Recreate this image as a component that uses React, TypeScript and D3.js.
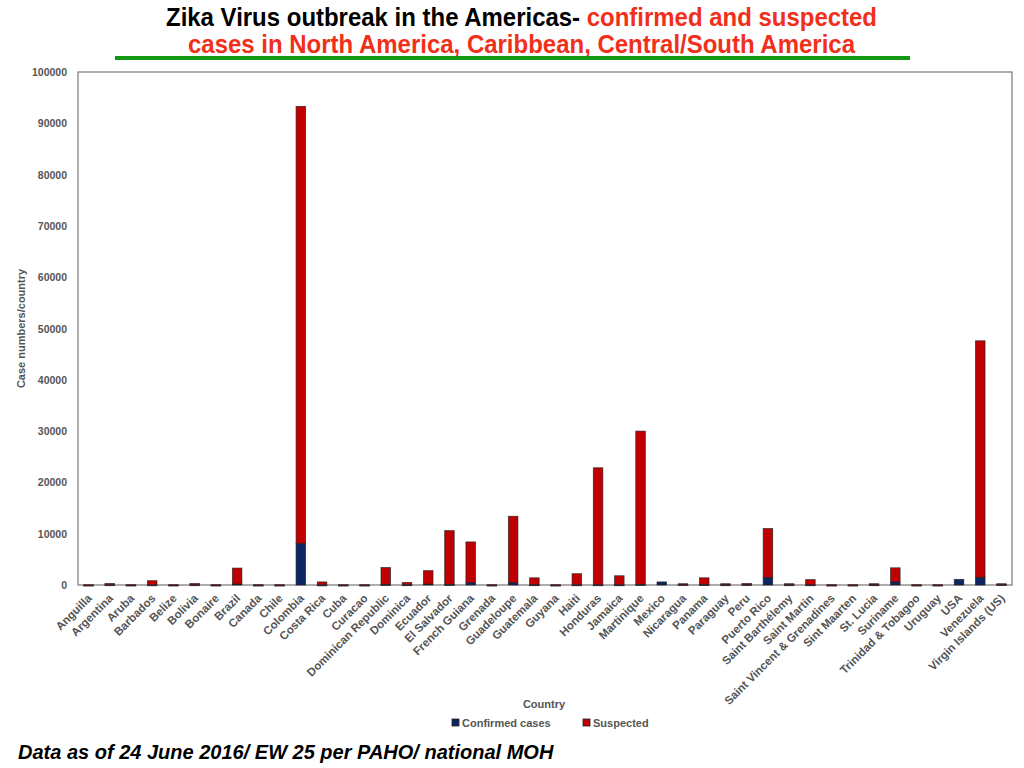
import React from "react";
import * as d3 from "d3";

const countries = [
  "Anguilla", "Argentina", "Aruba", "Barbados", "Belize", "Bolivia", "Bonaire", "Brazil",
  "Canada", "Chile", "Colombia", "Costa Rica", "Cuba", "Curacao", "Dominican Republic",
  "Dominica", "Ecuador", "El Salvador", "French Guiana", "Grenada", "Guadeloupe", "Guatemala",
  "Guyana", "Haiti", "Honduras", "Jamaica", "Martinique", "Mexico", "Nicaragua", "Panama",
  "Paraguay", "Peru", "Puerto Rico", "Saint Barthélemy", "Saint Martin",
  "Saint Vincent & Grenadines", "Sint Maarten", "St. Lucia", "Suriname", "Trinidad & Tobagoo",
  "Uruguay", "USA", "Venezuela", "Virgin Islands (US)",
];

const confirmed = [
  5, 60, 5, 40, 5, 60, 5, 200,
  5, 5, 8100, 30, 5, 5, 100,
  60, 200, 100, 450, 5, 450, 60,
  5, 50, 50, 50, 100, 600, 100, 80,
  60, 80, 1450, 60, 50,
  5, 5, 60, 600, 5,
  5, 1100, 1500, 80,
];

const suspected = [
  30, 240, 40, 800, 40, 240, 40, 3100,
  30, 30, 85200, 570, 30, 30, 3300,
  440, 2600, 10500, 7950, 30, 12950, 1340,
  30, 2150, 22800, 1750, 29900, 0, 150, 1320,
  190, 220, 9550, 190, 1000,
  30, 30, 190, 2750, 30,
  30, 0, 46100, 170,
];

const yTicks = [0, 10000, 20000, 30000, 40000, 50000, 60000, 70000, 80000, 90000, 100000];

const seriesNames = ["Confirmed cases", "Suspected"];
const seriesColors = ["#0b2660", "#c00000"];

export default function App() {
  const W = 1024, H = 768;
  const left = 78, right = 1012, top = 72, bottom = 585;

  const x = d3.scaleBand<string>().domain(countries).range([left, right]).paddingInner(0.55).paddingOuter(0.27);
  const y = d3.scaleLinear().domain([0, 100000]).range([bottom, top]);

  const rows = countries.map((c, i) => ({ country: c, confirmed: confirmed[i], suspected: suspected[i] }));
  const stack = d3.stack<any>().keys(["confirmed", "suspected"]);
  const layers = stack(rows);

  const tickFont = "'Liberation Sans', Arial, sans-serif";
  const titleFont = "'Liberation Sans', Arial, sans-serif";

  return (
    <svg width={W} height={H} style={{ position: "absolute", left: 0, top: 0, background: "#fff" }}>
      <rect x={0} y={0} width={W} height={H} fill="#fff" />
      {/* Title */}
      <text x={166} y={26} fontFamily={titleFont} fontWeight="bold" fontSize={25} textLength={711} lengthAdjust="spacingAndGlyphs">
        <tspan fill="#000">Zika Virus outbreak in the Americas- </tspan>
        <tspan fill="#f0301a">confirmed and suspected</tspan>
      </text>
      <text x={188} y={53} fontFamily={titleFont} fontWeight="bold" fontSize={25} fill="#f0301a" textLength={667} lengthAdjust="spacingAndGlyphs">
        cases in North America, Caribbean, Central/South America
      </text>
      <line x1={115} x2={910} y1={58} y2={58} stroke="#119a11" strokeWidth={4} />

      {/* plot frame */}
      <rect x={left} y={top} width={right - left} height={bottom - top} fill="none" stroke="#777" strokeWidth={1.2} />

      {/* y ticks */}
      {yTicks.map((t) => (
        <text key={t} x={67} y={y(t) + 4} textAnchor="end" fontFamily={tickFont} fontWeight="bold" fontSize={10.5} fill="#555">
          {t}
        </text>
      ))}
      <text transform={`translate(25, ${(top + bottom) / 2}) rotate(-90)`} textAnchor="middle" fontFamily={tickFont} fontWeight="bold" fontSize={11} fill="#555">
        Case numbers/country
      </text>

      {/* bars */}
      {layers.map((layer, li) => (
        <g key={li}>
          {layer.map((d: any, i: number) => {
            const h = y(d[0]) - y(d[1]);
            if (d[1] - d[0] <= 0) return null;
            return (
              <rect
                key={i}
                x={x(countries[i])!}
                y={y(d[1])}
                width={x.bandwidth()}
                height={Math.max(h, 1)}
                fill={seriesColors[li]}
                stroke="#222"
                strokeWidth={0.8}
                strokeOpacity={0.8}
              />
            );
          })}
        </g>
      ))}

      {/* x labels */}
      {countries.map((c) => {
        const cx = x(c)! + x.bandwidth() / 2 + 4;
        return (
          <text key={c} transform={`translate(${cx}, 599) rotate(-45)`} textAnchor="end" fontFamily={tickFont} fontWeight="bold" fontSize={11.5} fill="#555">
            {c}
          </text>
        );
      })}

      <text x={544} y={708} textAnchor="middle" fontFamily={tickFont} fontWeight="bold" fontSize={11} fill="#555">Country</text>

      {/* legend */}
      {seriesNames.map((n, i) => (
        <g key={n} transform={`translate(${i === 0 ? 452 : 583}, 719)`}>
          <rect x={0} y={0} width={7} height={7} fill={seriesColors[i]} stroke="#222" strokeWidth={0.8} />
          <text x={10} y={8} fontFamily={tickFont} fontWeight="bold" fontSize={11} fill="#555">{n}</text>
        </g>
      ))}

      {/* footer */}
      <text x={18} y={759} fontFamily={tickFont} fontWeight="bold" fontStyle="italic" fontSize={20} fill="#000">
        Data as of 24 June 2016/ EW 25 per PAHO/ national MOH
      </text>
    </svg>
  );
}
